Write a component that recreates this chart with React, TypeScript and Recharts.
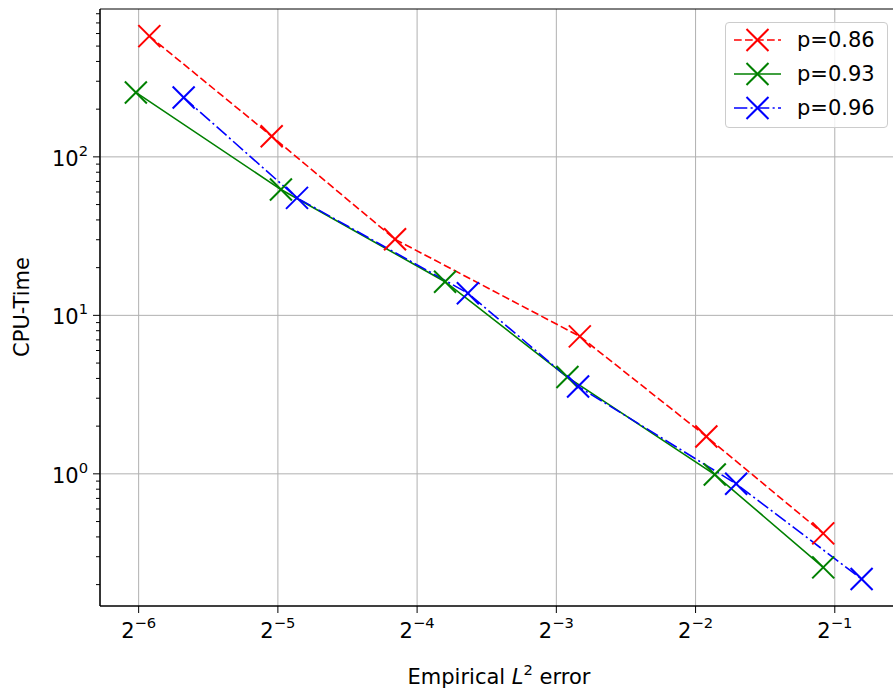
import React from "react";
import {
  LineChart, Line, XAxis, YAxis, CartesianGrid, ReferenceArea, Legend,
} from "recharts";

// values (log-log plot)
const ERR_086 = [0.01648, 0.0303, 0.056, 0.1405, 0.2638, 0.472];
const CPU_086 = [578, 135, 30.2, 7.37, 1.72, 0.421];
const ERR_093 = [0.01541, 0.03173, 0.07183, 0.1321, 0.2751, 0.472];
const CPU_093 = [255, 62.2, 16.3, 4.08, 0.99, 0.257];
const ERR_096 = [0.01955, 0.03437, 0.08047, 0.1393, 0.306, 0.5714];
const CPU_096 = [237, 55.1, 13.8, 3.56, 0.865, 0.217];

const X_EXP = [-6, -5, -4, -3, -2, -1];
const Y_EXP = [0, 1, 2];
const Y_MINOR = [0.2, 0.3, 0.4, 0.5, 0.6, 0.7, 0.8, 0.9, 2, 3, 4, 5, 6, 7, 8, 9,
  20, 30, 40, 50, 60, 70, 80, 90, 200, 300, 400, 500, 600, 700, 800];

const X_DOMAIN = [0.01289, 0.6849];
const Y_DOMAIN = [0.1466, 857];

const FONT = "'DejaVu Sans', sans-serif";
const FS = 21;
const TICK = 7;
const PAD = 5;

const SERIES = [
  { name: "p=0.86", color: "#ff0000", dash: "7.7 3.3", err: ERR_086, cpu: CPU_086 },
  { name: "p=0.93", color: "#008000", dash: undefined, err: ERR_093, cpu: CPU_093 },
  { name: "p=0.96", color: "#0000ff", dash: "13.3 3.3 2.1 3.3", err: ERR_096, cpu: CPU_096 },
];

const xTicks = X_EXP.map(e => 2 ** e);
const yMajor = Y_EXP.map(e => 10 ** e);
const yTicks = [...Y_MINOR, ...yMajor].sort((a, b) => a - b);

function Cross({ cx, cy, color, r = 11 }: { cx: number; cy: number; color: string; r?: number }) {
  return (
    <g stroke={color} strokeWidth={2}>
      <line x1={cx - r} y1={cy - r} x2={cx + r} y2={cy + r} />
      <line x1={cx - r} y1={cy + r} x2={cx + r} y2={cy - r} />
    </g>
  );
}

function XTick({ x, y, payload }: any) {
  const e = Math.round(Math.log2(payload.value));
  return (
    <text x={x} y={y + 20} textAnchor="middle" fontFamily={FONT} fontSize={FS} fill="#000">
      <tspan>2</tspan>
      <tspan dy={-10} fontSize={FS * 0.7}>{"\u2212" + Math.abs(e)}</tspan>
    </text>
  );
}

function YTick({ x, y, payload }: any) {
  const axisX = x + TICK + PAD;
  const e = Math.log10(payload.value);
  const major = Math.abs(e - Math.round(e)) < 1e-6;
  if (!major) {
    return <line x1={axisX - 4} x2={axisX} y1={y} y2={y} stroke="#000" strokeWidth={1} />;
  }
  return (
    <g>
      <line x1={axisX - TICK} x2={axisX} y1={y} y2={y} stroke="#000" strokeWidth={1} />
      <text x={x} y={y + 9} textAnchor="end" fontFamily={FONT} fontSize={FS} fill="#000">
        <tspan>10</tspan>
        <tspan dy={-10} fontSize={FS * 0.7}>{Math.round(e)}</tspan>
      </text>
    </g>
  );
}

function LegendBox() {
  return (
    <div style={{
      width: 161, height: 104, border: "1px solid #cccccc", borderRadius: 4,
      background: "rgba(255,255,255,0.8)", fontFamily: FONT, fontSize: FS,
    }}>
      {SERIES.map(s => (
        <div key={s.name} style={{ height: 34, display: "flex", alignItems: "center" }}>
          <svg width={64} height={34} style={{ marginLeft: 6 }}>
            <line x1={2} x2={49} y1={17} y2={17} stroke={s.color} strokeWidth={1.6} strokeDasharray={s.dash} />
            <Cross cx={25.5} cy={17} color={s.color} />
          </svg>
          <span style={{ marginLeft: 1, lineHeight: "34px" }}>{s.name}</span>
        </div>
      ))}
    </div>
  );
}

export default function App() {
  return (
    <div style={{ position: "fixed", left: 0, top: 0, width: 893, height: 692, overflow: "hidden", background: "#fff" }}>
      <LineChart width={910} height={692} margin={{ top: 9, right: 12, bottom: 0, left: 0 }}>
        <CartesianGrid stroke="#b0b0b0" strokeWidth={1} horizontalValues={yMajor} />
        <XAxis
          type="number" dataKey="err" scale="log" domain={X_DOMAIN} allowDataOverflow
          ticks={xTicks} interval={0} height={86} tick={<XTick />}
          tickSize={TICK} tickMargin={PAD} tickLine={{ stroke: "#000" }} axisLine={{ stroke: "#000" }}
          label={{
            content: () => (
              <text x={499} y={684} textAnchor="middle" fontFamily={FONT} fontSize={FS} fill="#000">
                Empirical <tspan fontStyle="italic">L</tspan>
                <tspan dy={-9} fontSize={FS * 0.7}>2</tspan>
                <tspan dy={9}> error</tspan>
              </text>
            ),
          }}
        />
        <YAxis
          type="number" dataKey="cpu" scale="log" domain={Y_DOMAIN} allowDataOverflow
          ticks={yTicks} interval={0} width={100} tick={<YTick />}
          tickSize={TICK} tickMargin={PAD} tickLine={false} axisLine={{ stroke: "#000" }}
          label={{
            content: () => (
              <text x={0} y={0} transform="translate(29 307) rotate(-90)" textAnchor="middle"
                fontFamily={FONT} fontSize={FS} fill="#000">CPU-Time</text>
            ),
          }}
        />
        <ReferenceArea x1={X_DOMAIN[0]} x2={X_DOMAIN[1]} y1={Y_DOMAIN[0]} y2={Y_DOMAIN[1]}
          fill="none" stroke="#000" strokeWidth={1} />
        {SERIES.map(s => (
          <Line
            key={s.name}
            name={s.name}
            data={s.err.map((e, i) => ({ err: e, cpu: s.cpu[i] }))}
            dataKey="cpu"
            type="linear"
            stroke={s.color}
            strokeWidth={1.6}
            strokeDasharray={s.dash}
            isAnimationActive={false}
            dot={(p: any) => <Cross key={p.index} cx={p.cx} cy={p.cy} color={s.color} />}
            activeDot={false}
          />
        ))}
        <Legend
          layout="vertical" align="center" verticalAlign="middle"
          wrapperStyle={{ position: "absolute", left: 725, top: 22, width: 163, height: 106 }}
          content={() => <LegendBox />}
        />
      </LineChart>
    </div>
  );
}
